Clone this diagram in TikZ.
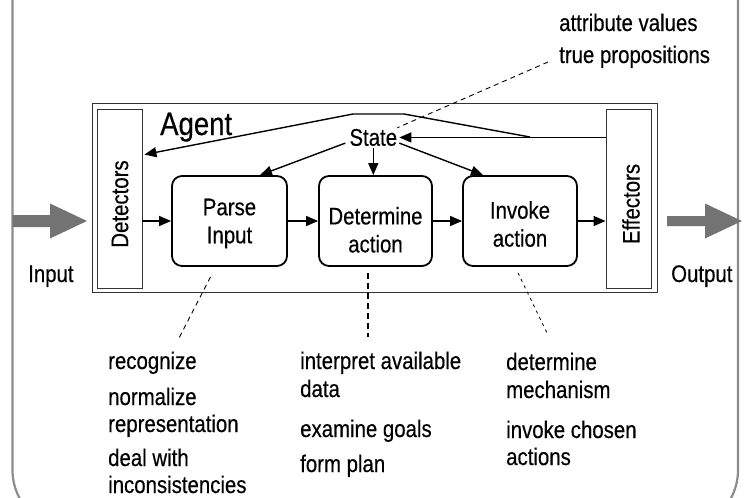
\documentclass[tikz,border=0pt]{standalone}
\usepackage{fontspec}
\setmainfont{Liberation Sans}[FakeStretch=0.85, FakeBold=0.4]
\usetikzlibrary{arrows.meta,calc}

\begin{document}
\begin{tikzpicture}[x=1pt,y=-1pt,
  every node/.style={font=\fontsize{24}{28}\selectfont, inner sep=0pt},
  frame/.style={draw=black!45, line width=2.2pt, rounded corners=60pt},
  thinbox/.style={draw=black!80, line width=0.9pt},
  stage/.style={draw, line width=1.8pt, rounded corners=10pt, align=center,
                minimum height=90pt},
  arr/.style={line width=1.4pt, -{Triangle[length=12pt,width=10pt]}},
  note/.style={anchor=base west},
  bigarrow/.style={fill=black!55},
  thindash/.style={line width=0.9pt, dash pattern=on 5pt off 4pt},
  thickdash/.style={line width=1.4pt, dash pattern=on 6pt off 4pt},
  finedash/.style={line width=0.8pt, dash pattern=on 3pt off 4pt},
]
\useasboundingbox (0,0) rectangle (748,498);

% outer environment frame
\draw[frame] (12.5,-100) rectangle (738,530);

% agent with its detectors and effectors
\node[thinbox, minimum width=565pt, minimum height=189pt] (agent) at (374.5,197.5) {};
\node[thinbox, minimum width=45pt, minimum height=179pt] (det) at (119.5,198.5) {};
\node[thinbox, minimum width=45pt, minimum height=179pt] (eff) at (628.5,198.5) {};
\node[rotate=90] (detlabel) at (120,204) {Detectors};
\node[rotate=90] (efflabel) at (631,204) {Effectors};
\node[font=\fontsize{32.4}{36}\selectfont, anchor=base west] (agentlabel) at (160,135) {Agent};

% processing stages (struts set the first baseline of each label)
\node[stage, minimum width=115pt] (parse) at (229.5,221) {\rule{0pt}{21.5pt}Parse\\Input};
\node[stage, minimum width=113pt] (decide) at (375.5,221) {\rule{0pt}{35pt}Determine\\action};
\node[stage, minimum width=114pt] (invoke) at (520,221) {\rule{0pt}{23.5pt}Invoke\\action};
\node[anchor=base, inner sep=2pt] (state) at (373.3,145.7) {State};

% main flow
\draw[arr] (det.east |- parse) -- (parse.west);
\draw[arr] (parse.east) -- (decide.west);
\draw[arr] (decide.east) -- (invoke.west);
\draw[arr] (invoke.east) -- (eff.west |- invoke);

% state feedback
\coordinate (j) at (530,137);
\coordinate (t1) at (404,114);
\coordinate (t2) at (353,114);
\draw[arr] (eff.west |- state.east) -- (state.east);
\draw[arr, line join=round] (j) -- (t1) -- (t2) -- ($(det.north east)+(2,46)$);
\draw[arr] ($(state.south west)+(-2,-5)$) -- ($(parse.north)+(30.5,0)$);
\draw[arr] (state.south) -- (state.south |- decide.north);
\draw[arr] ($(state.south east)+(0,-5)$) -- ($(invoke.north)+(-37,0)$);

% input and output
\coordinate (inTail) at (12.5,221);
\coordinate (outTail) at (667,221);
\fill[bigarrow] ($(inTail)+(0,-6)$) -- ++(37.5,0) -- ++(0,-11.5) -- (87,221)
  -- (50,238.5) -- ++(0,-11.5) -- ($(inTail)+(0,6)$) -- cycle;
\fill[bigarrow] ($(outTail)+(0,-5)$) -- ++(38,0) -- ++(0,-12.5) -- (742,221)
  -- (705,238.5) -- ++(0,-12.5) -- ($(outTail)+(0,5)$) -- cycle;
\node[note] (inlabel) at (28,282) {Input};
\node[note] (outlabel) at (671,282) {Output};

% annotations
\node[note] (sa) at (559,31) {attribute values};
\node[note] (sb) at (559,63) {true propositions};
\coordinate (sNote) at (548,62);
\draw[thindash] (sNote) -- ($(state.north east)+(-2,1)$);

\foreach \t/\y [count=\i] in {recognize/369, normalize/405, representation/432,
    deal with/466, inconsistencies/493}
  \node[note] (pn\i) at (108,\y) {\t};
\foreach \t/\y [count=\i] in {interpret available/369, data/397,
    examine goals/437, form plan/472}
  \node[note] (dn\i) at (300,\y) {\t};
\foreach \t/\y [count=\i] in {determine/370, mechanism/398,
    invoke chosen/438, actions/465}
  \node[note] (in\i) at (506,\y) {\t};

\coordinate (pEnd) at (178,340);
\coordinate (dEnd) at (368,337);
\coordinate (iEnd) at (548,335);
\draw[thindash] ($(parse.south)+(-19,10)$) -- (pEnd);
\draw[thickdash] ($(decide.south)+(-7.5,6)$) -- (dEnd);
\draw[finedash] ($(invoke.south)+(-2,6)$) -- (iEnd);
\end{tikzpicture}
\end{document}
